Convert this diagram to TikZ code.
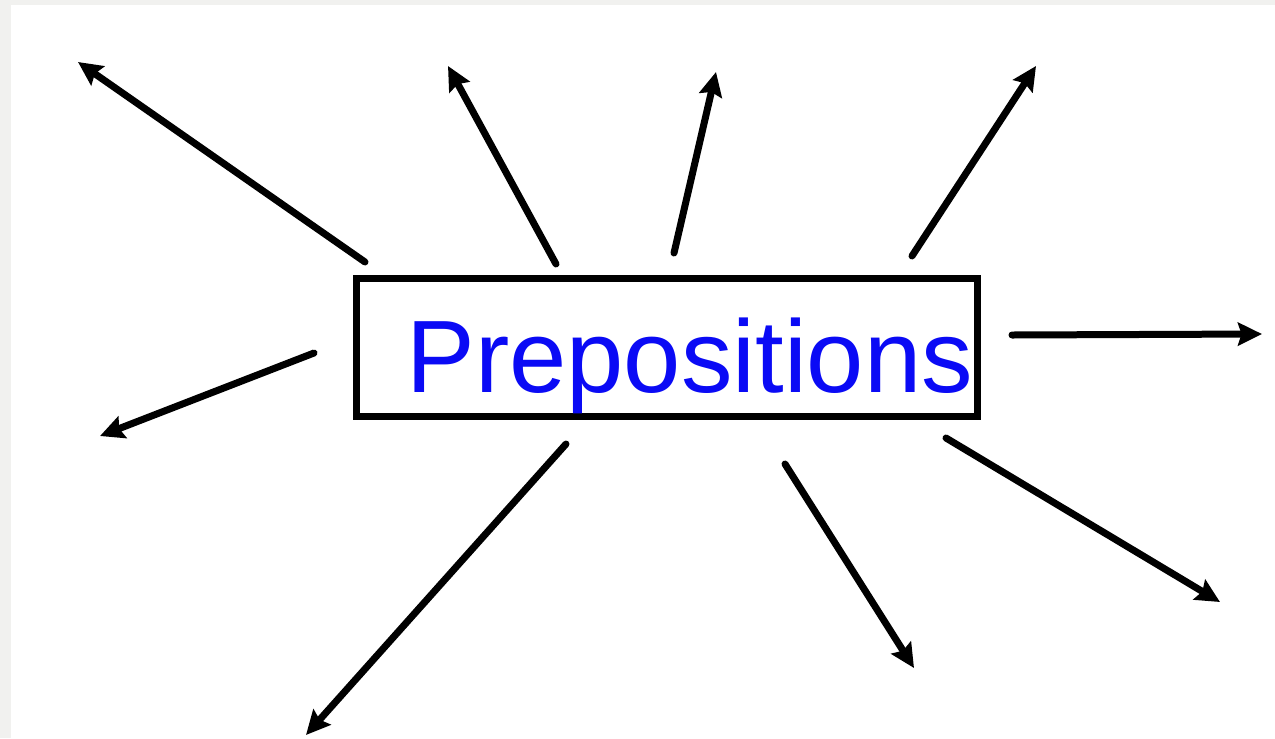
\documentclass[tikz,border=0pt]{standalone}
\usepackage{fontspec}
\setmainfont{Liberation Sans}
\usepackage{tikz}
\usetikzlibrary{arrows.meta}
\definecolor{paneGray}{HTML}{F1F1EF}
\definecolor{wordBlue}{HTML}{0A0AF5}
\tikzstyle{arrow} = [line width=0.14cm, line cap=round, -{Stealth[length=0.48cm, width=0.46cm, inset=0.07cm]}]
\tikzstyle{box} = [rectangle, draw=black, line width=0.13cm, minimum width=12.43cm, minimum height=2.77cm, inner sep=0pt]
\tikzstyle{word} = [anchor=base west, inner sep=0pt, text=wordBlue, font=\fontsize{58.6}{60}\selectfont]

\begin{document}
\begin{tikzpicture}[x=0.02cm, y=-0.02cm]
                 \fill [paneGray] (0,0) rectangle (1275,738);
                 \fill [white] (11,5) rectangle (1275,738);
                 \useasboundingbox (0,0) rectangle (1275,738);
                 \node (box) [box] at (667,347.5) {};
                 \node (title) [word] at (406,392) {Prepositions};
                 % ends of the rays
                 \coordinate (s1) at (365,262);   \coordinate (e1) at (78,62);
                 \coordinate (s2) at (556,264);   \coordinate (e2) at (448,66);
                 \coordinate (s3) at (674,253);   \coordinate (e3) at (716,72);
                 \coordinate (s4) at (912,256);   \coordinate (e4) at (1036,66);
                 \coordinate (s5) at (1012,335);  \coordinate (e5) at (1262,334);
                 \coordinate (s6) at (314,353);   \coordinate (e6) at (100,436);
                 \coordinate (s7) at (566,444);   \coordinate (e7) at (306,735);
                 \coordinate (s8) at (785,464);   \coordinate (e8) at (914,668);
                 \coordinate (s9) at (946,438);   \coordinate (e9) at (1220,602);
                 \draw [arrow] (s1) -- (e1);
                 \draw [arrow] (s2) -- (e2);
                 \draw [arrow] (s3) -- (e3);
                 \draw [arrow] (s4) -- (e4);
                 \draw [arrow] (s5) -- (e5);
                 \draw [arrow] (s6) -- (e6);
                 \draw [arrow] (s7) -- (e7);
                 \draw [arrow] (s8) -- (e8);
                 \draw [arrow] (s9) -- (e9);
             \end{tikzpicture}
\end{document}
